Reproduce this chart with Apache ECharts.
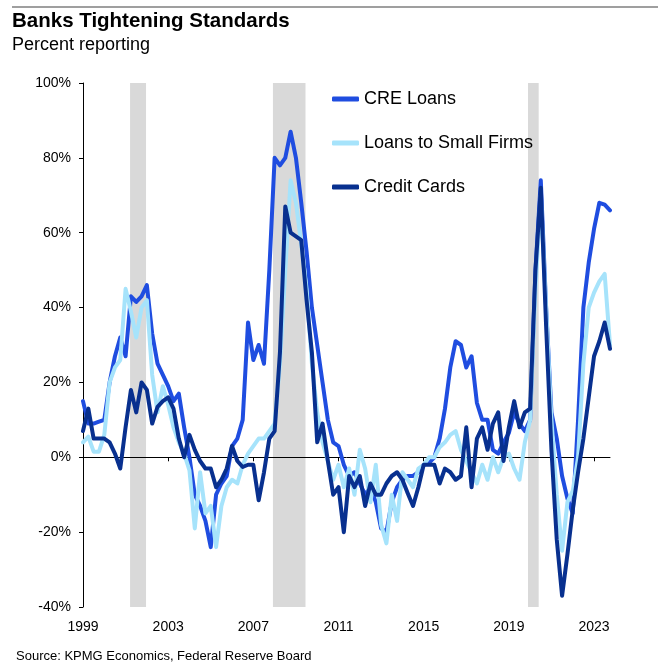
<!DOCTYPE html>
<html>
<head>
<meta charset="utf-8">
<script src="https://cdn.jsdelivr.net/npm/echarts@6/dist/echarts.min.js"></script>
<style>
  html, body { margin: 0; padding: 0; background: #fff; }
  #chart { width: 658px; height: 662px; }
</style>
</head>
<body>
<div id="chart"></div>
<script>
// Quarterly survey readings, 1999 Q1 through 2023 Q4 (net percent of banks tightening)
const startYear = 1999;
const yearTicks = [1999, 2003, 2007, 2011, 2015, 2019, 2023];

const creLoans = [
  15, 9, 9, 9.5, 10, 20, 27, 32, 27, 43,
  41.5, 43, 46, 33, 25, 22, 19, 15, 17, 8,
  0, -10, -13, -17, -24, -10, -7, -5, 3, 5,
  10, 36, 26, 30, 25, 50, 80, 78, 80, 87,
  80, 68, 55, 40, 30, 20, 10, 4, 3, -2,
  -5, -4, -7, -10, -8, -12, -19, -20, -12, -8,
  -6, -5, -5, -4, -2, -1.5, 0, 5, 13, 24,
  31, 30, 24, 27, 14.5, 10, 10, 2, 1, 4,
  6.5, 12, 9, 7, 10, 50, 74, 40, 12, 5,
  -5, -11, -15, 10, 40, 52, 61, 68, 67.5, 66
];

const smallFirms = [
  4, 5.5, 1.5, 1.5, 6, 20, 24, 26, 45, 39,
  32, 40, 42, 22, 12, 19, 14, 8, 4, 1,
  -3.5, -19, -4, -15, -13, -24, -13, -8, -6, -7,
  -2, 1, 3, 5, 5, 7, 9, 25, 50, 74,
  68, 57, 45, 25, 12, 4, -1, -6, -2, -8,
  -3, -10, 2, -3, -12, -2, -18, -23, -10, -17,
  -4, -6, -8, -3, -2, 0, 0, 2.7, 4, 6,
  7, 2, -1, -4, -7, -2, -6, 0, -4, 0,
  1, -3, -6, 4, 10, 45, 70, 40, 10, -10,
  -25, -12, -9, 0, 25, 40, 44, 47, 49, 30
];

const creditCards = [
  7, 13, 5, 5, 5, 4, 1, -3, 8, 18,
  12, 20, 18, 9, 13.5, 15, 16, 13, 5, 0,
  6, 2, -1, -3, -3, -8, -6, -3, 3, -1,
  -2.6, -2, -2, -11.5, -4, 5, 7, 28, 67, 60,
  59, 58, 42, 28, 4, 9, -1, -10, -8, -20,
  -5, -8, -5, -13, -7, -10, -10, -7, -5, -4,
  -6, -9.6, -13, -8, -2, -2, -2, -7, -3, -4,
  -6, -5, 8, -8, 5, 8, 2, 9, 12, -1,
  8, 15, 8, 12, 13, 50, 72, 35, 2, -22,
  -37, -26, -14, -4, 5, 16, 27, 31, 36, 29
];

// NBER recession spans, in fractional years
const recessions = [
  [2001.21, 2001.96],
  [2007.92, 2009.45],
  [2019.90, 2020.40]
];

const seriesNames = ['CRE Loans', 'Loans to Small Firms', 'Credit Cards'];
const seriesColors = ['#1F4DE0', '#A6E3FB', '#08308F'];
const seriesValues = [creLoans, smallFirms, creditCards];

const FONT = '"Liberation Sans", Arial, Helvetica, sans-serif';

function toPoints(values) {
  return values.map((v, i) => [startYear + i / 4, v]);
}

const lastX = startYear + (creLoans.length - 1) / 4;

const chart = echarts.init(document.getElementById('chart'), null, { renderer: 'canvas' });

const lineSeries = seriesValues.map((vals, k) => ({
  name: seriesNames[k],
  type: 'line',
  xAxisIndex: 0,
  yAxisIndex: 0,
  data: toPoints(vals),
  symbol: 'none',
  showSymbol: false,
  z: 3,
  lineStyle: { color: seriesColors[k], width: 4, join: 'round', cap: 'round' },
  itemStyle: { color: seriesColors[k] },
  emphasis: { disabled: true }
}));

const bandSeries = {
  name: 'recession',
  type: 'line',
  data: [],
  z: 0,
  silent: true,
  markArea: {
    silent: true,
    itemStyle: { color: '#D9D9D9' },
    data: recessions.map(r => [{ xAxis: r[0] }, { xAxis: r[1] }])
  }
};

chart.setOption({
  animation: false,
  backgroundColor: '#fff',
  title: [
    {
      text: 'Banks Tightening Standards',
      left: 12, top: 11, padding: 0,
      textStyle: { fontFamily: FONT, fontWeight: 'bold', fontSize: 20.5, color: '#000' }
    },
    {
      text: 'Percent reporting',
      left: 12, top: 36, padding: 0,
      textStyle: { fontFamily: FONT, fontWeight: 'normal', fontSize: 18, color: '#000' }
    },
    {
      text: 'Source: KPMG Economics, Federal Reserve Board',
      left: 16, top: 650, padding: 0,
      textStyle: { fontFamily: FONT, fontWeight: 'normal', fontSize: 13, color: '#000' }
    }
  ],
  graphic: [
    {
      type: 'line',
      shape: { x1: 12, y1: 7, x2: 658, y2: 7 },
      style: { stroke: '#7F7F7F', lineWidth: 1.5 }
    }
  ],
  legend: {
    orient: 'vertical',
    left: 332, top: 90, padding: 0,
    icon: 'roundRect',
    itemWidth: 27, itemHeight: 5,
    itemGap: 26,
    data: seriesNames,
    textStyle: { fontFamily: FONT, fontSize: 18, color: '#000' }
  },
  grid: { left: 83, top: 83, width: 527, height: 524, containLabel: false },
  xAxis: [
    {
      type: 'value',
      min: startYear, max: lastX,
      position: 'bottom',
      axisLine: { show: false, onZero: false },
      axisTick: { show: false },
      splitLine: { show: false },
      axisLabel: {
        customValues: yearTicks,
        margin: 13,
        fontFamily: FONT, fontSize: 14, color: '#000',
        formatter: v => String(v)
      }
    },
    {
      type: 'value',
      min: startYear, max: lastX,
      position: 'bottom',
      z: 2,
      axisLine: { show: true, onZero: true, lineStyle: { color: '#000', width: 1 } },
      axisTick: { show: true, inside: false, length: 4, customValues: yearTicks, lineStyle: { color: '#000' } },
      axisLabel: { show: false },
      splitLine: { show: false }
    }
  ],
  yAxis: {
    type: 'value',
    min: -40, max: 100, interval: 20,
    axisLine: { show: true, lineStyle: { color: '#000', width: 1 } },
    axisTick: { show: true, inside: false, length: 4, lineStyle: { color: '#000' } },
    splitLine: { show: false },
    axisLabel: {
      margin: 12,
      fontFamily: FONT, fontSize: 14, color: '#000',
      formatter: '{value}%'
    }
  },
  series: [bandSeries].concat(lineSeries)
});
</script>
</body>
</html>
